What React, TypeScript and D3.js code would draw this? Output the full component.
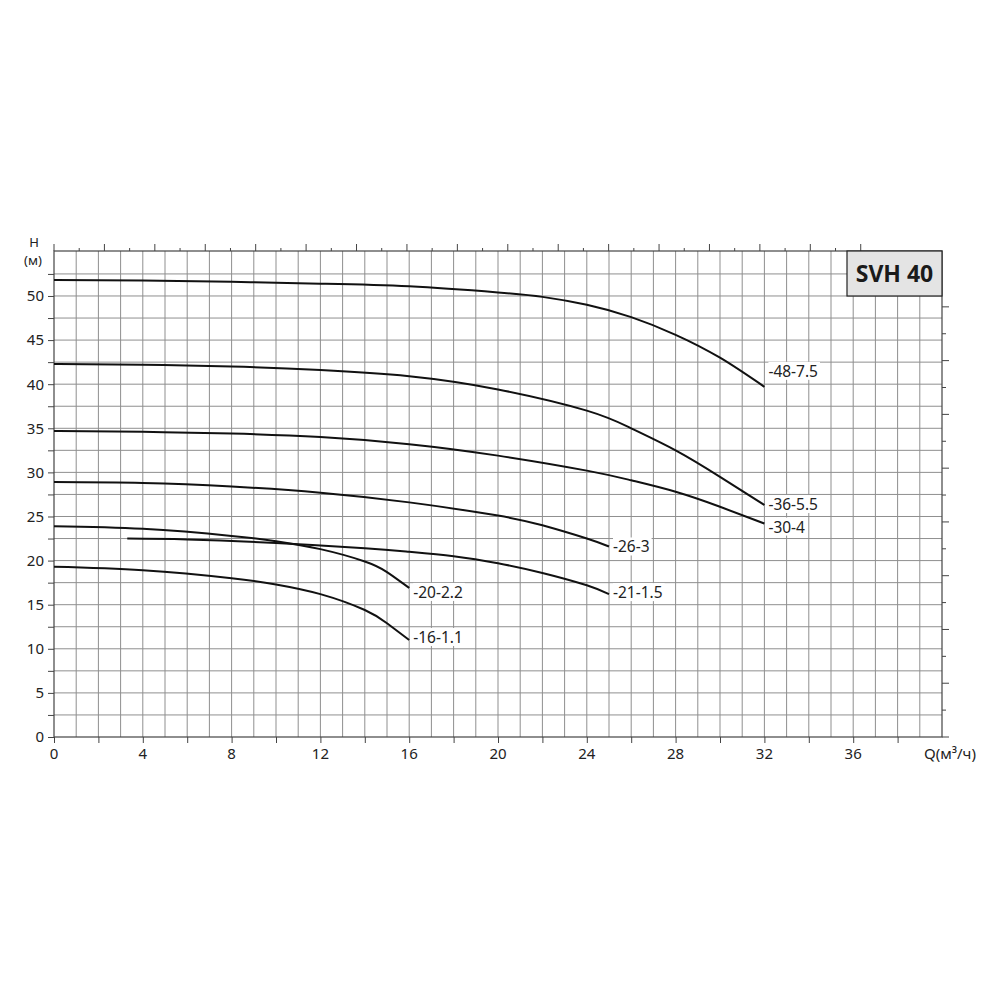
import React, { useEffect, useRef } from "react";
import * as d3 from "d3";

// pump curves of SVH 40, Q in m3/h, H in m
const flowTicks = [0, 4, 8, 12, 16, 20, 24, 28, 32, 36];
const headTicks = [0, 5, 10, 15, 20, 25, 30, 35, 40, 45, 50];

const curveNames = ["-48-7.5", "-36-5.5", "-30-4", "-26-3", "-21-1.5", "-20-2.2", "-16-1.1"];

const q48 = [0, 4, 8, 12, 16, 20, 22, 24, 26, 28, 30, 32];
const h48 = [51.8, 51.75, 51.6, 51.4, 51.1, 50.4, 49.9, 49.0, 47.6, 45.6, 43.0, 39.7];

const q36 = [0, 4, 8, 12, 16, 20, 24, 26, 28, 30, 32];
const h36 = [42.3, 42.2, 42.0, 41.6, 40.9, 39.4, 37.0, 35.0, 32.5, 29.5, 26.3];

const q30 = [0, 4, 8, 12, 16, 20, 24, 26, 28, 30, 32];
const h30 = [34.7, 34.6, 34.4, 34.0, 33.2, 31.9, 30.2, 29.1, 27.8, 26.1, 24.2];

const q26 = [0, 4, 8, 12, 16, 20, 22, 24, 25];
const h26 = [28.9, 28.8, 28.4, 27.7, 26.6, 25.1, 24.0, 22.5, 21.6];

const q21 = [3.3, 6, 10, 14, 16, 18, 20, 22, 24, 25];
const h21 = [22.5, 22.4, 22.0, 21.4, 21.0, 20.5, 19.7, 18.6, 17.2, 16.2];

const q20 = [0, 4, 8, 10, 12, 14, 15, 16];
const h20 = [23.9, 23.6, 22.8, 22.2, 21.3, 19.9, 18.7, 16.9];

const q16 = [0, 4, 8, 10, 12, 14, 15, 16];
const h16 = [19.3, 18.9, 18.0, 17.3, 16.2, 14.4, 12.9, 11.0];

const flows = [q48, q36, q30, q26, q21, q20, q16];
const heads = [h48, h36, h30, h26, h21, h20, h16];

export default function App() {
  const chartRef = useRef<HTMLDivElement>(null);

  useEffect(() => {
    if (!chartRef.current) return;
    d3.select(chartRef.current).selectAll("*").remove();

    const width = 1000;
    const height = 1000;
    const margin = { top: 251, right: 58, bottom: 263, left: 54 };
    const font = "'Noto Sans', 'Open Sans', sans-serif";
    const gridColor = "#8f8f8f";
    const axisColor = "#444";

    const svg = d3
      .select(chartRef.current)
      .append("svg")
      .attr("width", width)
      .attr("height", height)
      .style("position", "absolute")
      .style("left", 0)
      .style("top", 0)
      .style("background", "#fff");

    const x = d3.scaleLinear().domain([0, 40]).range([margin.left, width - margin.right]);
    const y = d3.scaleLinear().domain([0, 55.1]).range([height - margin.bottom, margin.top]);

    const [x0, x1] = x.range();
    const [y0, y1] = y.range();

    // grid
    const grid = svg.append("g").attr("stroke", gridColor).attr("stroke-width", 1);
    grid
      .selectAll("line.v")
      .data(d3.range(1, 40))
      .join("line")
      .attr("x1", (d) => x(d))
      .attr("x2", (d) => x(d))
      .attr("y1", y1)
      .attr("y2", y0);
    grid
      .selectAll("line.h")
      .data(d3.range(2.5, 55, 2.5))
      .join("line")
      .attr("x1", x0)
      .attr("x2", x1)
      .attr("y1", (d) => y(d))
      .attr("y2", (d) => y(d));

    // frame
    svg
      .append("rect")
      .attr("x", x0)
      .attr("y", y1)
      .attr("width", x1 - x0)
      .attr("height", y0 - y1)
      .attr("fill", "none")
      .attr("stroke", axisColor)
      .attr("stroke-width", 1.2);

    // bottom axis (m3/h)
    svg
      .append("g")
      .attr("transform", `translate(0,${y0})`)
      .call(d3.axisBottom(x).tickValues(d3.range(0, 40, 2)).tickSize(6).tickFormat(() => ""))
      .call((g) => g.select(".domain").remove())
      .call((g) => g.selectAll("line").attr("stroke", axisColor));
    svg
      .append("g")
      .selectAll("text")
      .data(flowTicks)
      .join("text")
      .attr("x", (d) => x(d))
      .attr("y", y0 + 22)
      .attr("text-anchor", "middle")
      .attr("font-family", font)
      .attr("font-size", 15)
      .attr("fill", "#222")
      .text((d) => d);

    // left axis (m)
    svg
      .append("g")
      .attr("transform", `translate(${x0},0)`)
      .call(d3.axisLeft(y).tickValues(d3.range(0, 55, 2.5)).tickSize(6).tickFormat(() => ""))
      .call((g) => g.select(".domain").remove())
      .call((g) => g.selectAll("line").attr("stroke", axisColor));
    svg
      .append("g")
      .selectAll("text")
      .data(headTicks)
      .join("text")
      .attr("x", x0 - 10)
      .attr("y", (d) => y(d))
      .attr("dy", "0.36em")
      .attr("text-anchor", "end")
      .attr("font-family", font)
      .attr("font-size", 15)
      .attr("fill", "#222")
      .text((d) => d);

    // top axis in US gpm, no labels
    const gpm = d3.scaleLinear().domain([0, 40 / 0.22712]).range([x0, x1]);
    svg
      .append("g")
      .selectAll("line")
      .data(d3.range(0, 165, 5))
      .join("line")
      .attr("x1", (d) => gpm(d))
      .attr("x2", (d) => gpm(d))
      .attr("y1", y1)
      .attr("y2", (d) => y1 - (d % 10 === 0 ? 7 : 3))
      .attr("stroke", axisColor);

    // right axis in ft, no labels
    const ft = d3.scaleLinear().domain([0, 55.1 / 0.3048]).range([y0, y1]);
    svg
      .append("g")
      .selectAll("line")
      .data(d3.range(0, 170, 10))
      .join("line")
      .attr("x1", x1)
      .attr("x2", (d) => x1 + (d % 20 === 0 ? 7 : 4))
      .attr("y1", (d) => ft(d))
      .attr("y2", (d) => ft(d))
      .attr("stroke", axisColor);

    // axis titles
    svg
      .append("text")
      .attr("x", 34)
      .attr("y", 247)
      .attr("text-anchor", "middle")
      .attr("font-family", font)
      .attr("font-size", 13)
      .attr("fill", "#222")
      .text("H");
    svg
      .append("text")
      .attr("x", 33)
      .attr("y", 265)
      .attr("text-anchor", "middle")
      .attr("font-family", font)
      .attr("font-size", 13)
      .attr("fill", "#222")
      .text("(м)");
    svg
      .append("text")
      .attr("x", 924)
      .attr("y", y0 + 22)
      .attr("font-family", font)
      .attr("font-size", 15)
      .attr("fill", "#222")
      .text("Q(м³/ч)");

    // curves
    const line = d3
      .line<[number, number]>()
      .x((d) => x(d[0]))
      .y((d) => y(d[1]))
      .curve(d3.curveNatural);

    const labelDy = [-10, 5, 9, 6, 4, 10, 3];

    curveNames.forEach((name, i) => {
      const pts = flows[i].map((q, j) => [q, heads[i][j]] as [number, number]);
      svg
        .append("path")
        .attr("d", line(pts))
        .attr("fill", "none")
        .attr("stroke", "#111")
        .attr("stroke-width", 2);

      const end = pts[pts.length - 1];
      const label = svg
        .append("text")
        .attr("x", x(end[0]) + 4)
        .attr("y", y(end[1]) + labelDy[i])
        .attr("font-family", font)
        .attr("font-size", 15.5)
        .attr("fill", "#222")
        .text(name);
      const bb = (label.node() as SVGTextElement).getBBox();
      svg
        .insert("rect", () => label.node() as SVGTextElement)
        .attr("x", bb.x)
        .attr("y", bb.y + 2)
        .attr("width", bb.width + 2)
        .attr("height", bb.height - 4)
        .attr("fill", "#fff");
    });

    // model box
    svg
      .append("rect")
      .attr("x", 847)
      .attr("y", y1)
      .attr("width", x1 - 847)
      .attr("height", 45)
      .attr("fill", "#e4e4e4")
      .attr("stroke", "#222")
      .attr("stroke-width", 1.2);
    svg
      .append("text")
      .attr("x", (847 + x1) / 2)
      .attr("y", y1 + 31)
      .attr("text-anchor", "middle")
      .attr("font-family", font)
      .attr("font-size", 23)
      .attr("font-weight", "bold")
      .attr("fill", "#1a1a1a")
      .text("SVH 40");
  }, []);

  return <div ref={chartRef}></div>;
}
